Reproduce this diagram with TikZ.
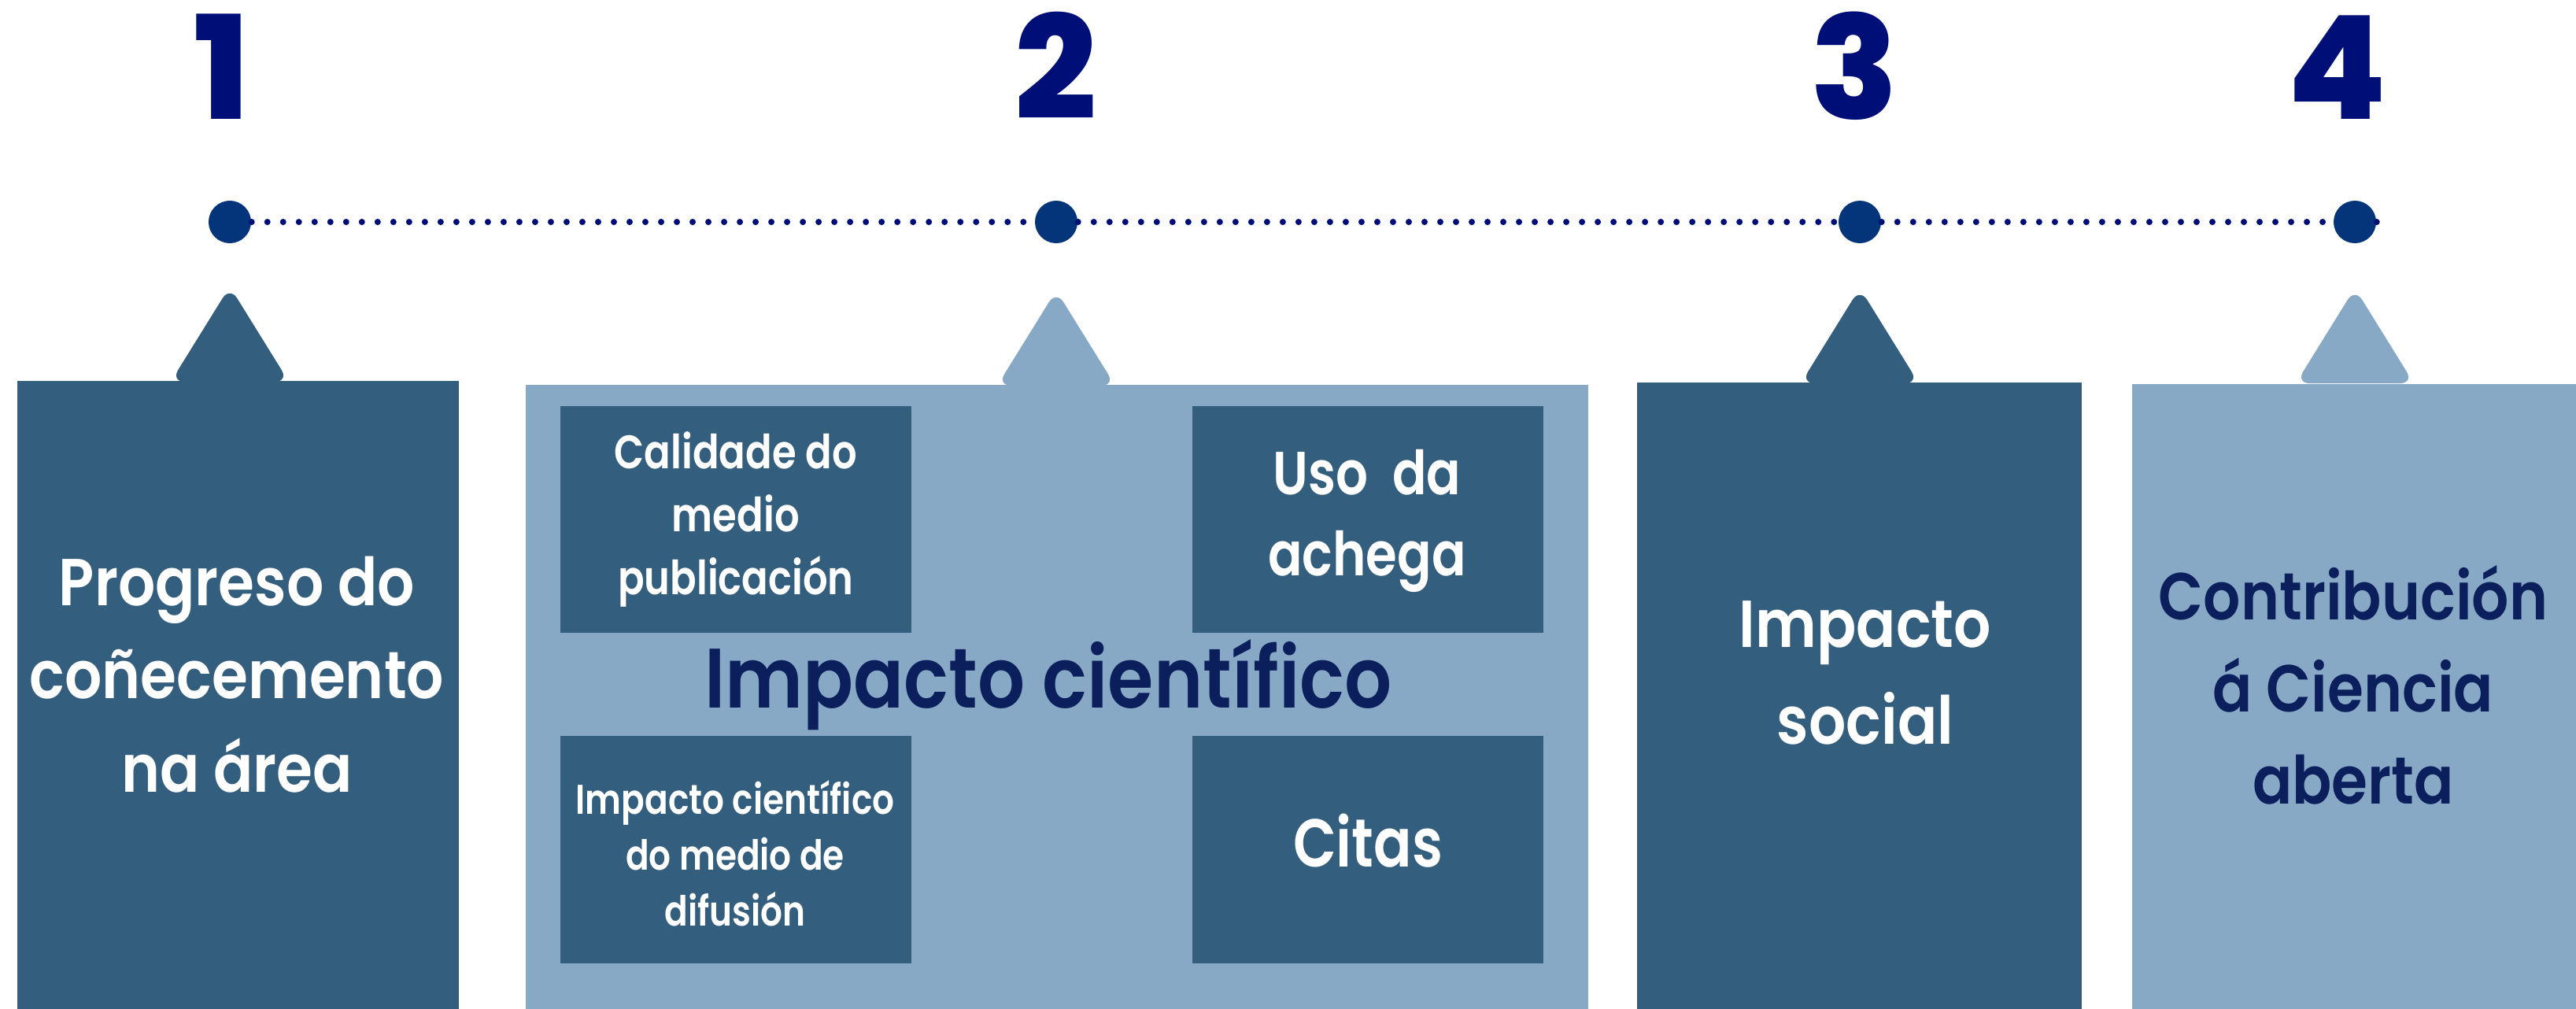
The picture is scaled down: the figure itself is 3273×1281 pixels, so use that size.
\documentclass[tikz,border=0pt]{standalone}
\usepackage{fontspec}
\setmainfont{Poppins}[UprightFont=* SemiBold, BoldFont=* ExtraBold]
\newfontfamily\panelfont{Poppins}[UprightFont=* SemiBold, FakeStretch=0.88]
\newfontfamily\narrowfont{Poppins}[UprightFont=* SemiBold, FakeStretch=0.83]
\usetikzlibrary{positioning,calc}
\definecolor{NumBlue}{HTML}{000E78}
\definecolor{DotBlue}{HTML}{04357A}
\definecolor{DarkTab}{HTML}{345E7E}
\definecolor{LightTab}{HTML}{87A9C5}
\definecolor{InkBlue}{HTML}{0B1F5C}
\tikzset{
  every node/.style={
    inner sep=0pt
  },
  step number/.style={
    text=NumBlue,
    font=\bfseries\fontsize{52}{52}\selectfont,
    anchor=base
  },
  step dot/.style={
    circle,
    fill=DotBlue,
    minimum size=0.54cm
  },
  dot line/.style={
    draw=NumBlue,
    line width=0.08cm,
    line cap=round,
    dash pattern=on 0pt off 0.2cm
  },
  panel/.style n args={3}{
    rectangle,
    anchor=north west,
    fill=#1,
    minimum width=#2,
    minimum height=#3
  },
  panel text/.style n args={3}{
    align=center,
    text=#1,
    font=\panelfont\fontsize{#2}{#3}\selectfont
  },
  small text/.style n args={2}{
    align=center,
    text=white,
    font=\narrowfont\fontsize{#1}{#2}\selectfont
  },
  tab top/.pic={
    \fill[pic actions, rounded corners=5pt] (-75,2) -- (0,-119) -- (75,2) -- cycle;
  }
}

\begin{document}
\begin{tikzpicture}[x=0.01cm,y=-0.01cm]
  \useasboundingbox (0,0) rectangle (3273,1281);
  % timeline
  \node[step number] (n1) at (282,151) {1};
  \node[step number] (n2) at (1342,151) {2};
  \node[step number] (n3) at (2356,151) {3};
  \node[step number] (n4) at (2970,151) {4};
  \node[step dot] (d1) at (292,282) {};
  \node[step dot] (d2) at (1342,282) {};
  \node[step dot] (d3) at (2363,282) {};
  \node[step dot] (d4) at (2992,282) {};
  \coordinate (tail) at (3034,282);
  \foreach \a/\b in {d1/d2,d2/d3,d3/d4,d4/tail}
    \draw[dot line] (\a) -- (\b);
  % panels
  \pic[fill=DarkTab] at (292,483) {tab top};
  \pic[fill=LightTab] at (1342,488) {tab top};
  \pic[fill=DarkTab] at (2363,485) {tab top};
  \pic[fill=LightTab] at (2992,485) {tab top};
  \node[panel={DarkTab}{5.61cm}{7.98cm}] (progreso) at (21,483) {};
  \node[panel={LightTab}{13.49cm}{7.93cm}] (cientifico) at (667,488) {};
  \node[panel={DarkTab}{5.65cm}{7.96cm}] (social) at (2079,485) {};
  \node[panel={LightTab}{5.65cm}{7.94cm}] (aberta) at (2708,487) {};
  \node[panel={DarkTab}{4.46cm}{2.88cm}] (calidade) at (711,515) {};
  \node[panel={DarkTab}{4.46cm}{2.88cm}] (uso) at (1514,515) {};
  \node[panel={DarkTab}{4.46cm}{2.89cm}] (medio) at (711,934) {};
  \node[panel={DarkTab}{4.46cm}{2.89cm}] (citas) at (1514,934) {};
  % texts
  \node[panel text={white}{24}{33.6}] (progreso text) at (301,857) {Progreso do\\coñecemento\\na área};
  \node[panel text={InkBlue}{30.5}{30}, anchor=base] (cientifico text) at (1332,899) {Impacto científico};
  \node[small text={17}{22.8}] (calidade text) at (calidade.center) {Calidade do\\medio\\publicación};
  \node[small text={22}{29.3}] (uso text) at (1737,662) {Uso~~da\\achega};
  \node[small text={15}{20.2}] (medio text) at (934,1084) {Impacto científico\\do medio de\\difusión};
  \node[small text={24.5}{30}] (citas text) at (1738,1068) {Citas};
  \node[panel text={white}{24}{35}] (social text) at (2370,855) {Impacto\\social};
  \node[panel text={InkBlue}{24}{33.3}] (aberta text) at (2990,870) {Contribución\\á Ciencia\\aberta};
\end{tikzpicture}
\end{document}
